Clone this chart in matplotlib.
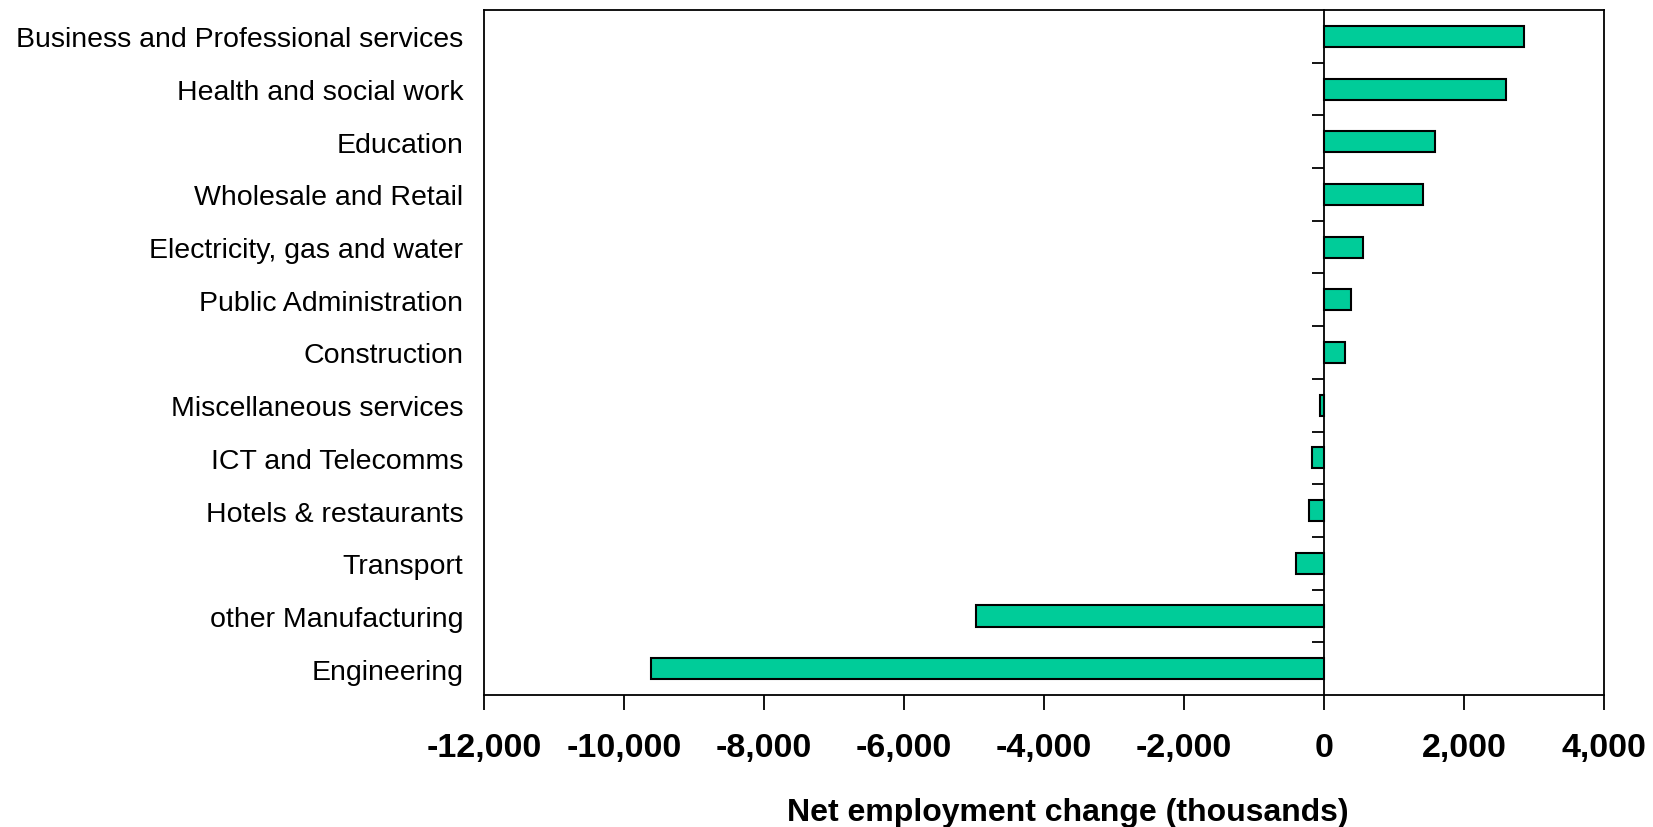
import matplotlib
matplotlib.use("Agg")
import matplotlib.pyplot as plt
import numpy as np

plt.rcParams['axes.unicode_minus'] = False

categories = [
    "Business and Professional services",
    "Health and social work",
    "Education",
    "Wholesale and Retail",
    "Electricity, gas and water",
    "Public Administration",
    "Construction",
    "Miscellaneous services",
    "ICT and Telecomms",
    "Hotels & restaurants",
    "Transport",
    "other Manufacturing",
    "Engineering",
]
values = [2850, 2600, 1590, 1410, 550, 380, 300, -55, -170, -220, -400, -4970, -9620]
xticks = [-12000, -10000, -8000, -6000, -4000, -2000, 0, 2000, 4000]
xlabel = "Net employment change (thousands)"

bold = dict(family=['Liberation Sans', 'DejaVu Sans'], weight='bold')

fig = plt.figure(figsize=(16.53, 8.28), dpi=100)
ax = fig.add_axes([484/1653, 1 - 696/828, (1604-484)/1653, (696-11)/828])

y = np.arange(len(categories))
ax.barh(y, values, height=0.4, color='#00CC99', edgecolor='black', linewidth=1.5, zorder=3)

ax.set_xlim(xticks[0], xticks[-1])
ax.set_ylim(len(categories) - 0.5, -0.5)

ax.set_yticks(y)
ax.set_yticklabels(categories, family=['Liberation Sans', 'DejaVu Sans'], fontsize=20.5)
ax.tick_params(axis='y', length=0, pad=15)

ax.set_xticks(xticks)
ax.set_xticklabels([f"{v:,}" for v in xticks], fontsize=24.5, **bold)
ax.tick_params(axis='x', direction='out', length=11, width=1.3, pad=16)

ax.set_xlabel(xlabel, fontsize=23, **bold)
ax.xaxis.set_label_coords(0.5 + 24/1120, -0.149)

for s in ax.spines.values():
    s.set_linewidth(1.3)

# category axis crossing at zero
zero_pos = (0 - xticks[0]) / (xticks[-1] - xticks[0])
sec = ax.secondary_yaxis(zero_pos)
sec.set_alignment('left')
sec.set_yticks(np.arange(len(categories) - 1) + 0.5)
sec.set_yticklabels([])
sec.tick_params(axis='y', direction='out', length=9, width=1.3)
sec.spines['left'].set_linewidth(1.3)

fig.savefig("out.png", dpi=100)
